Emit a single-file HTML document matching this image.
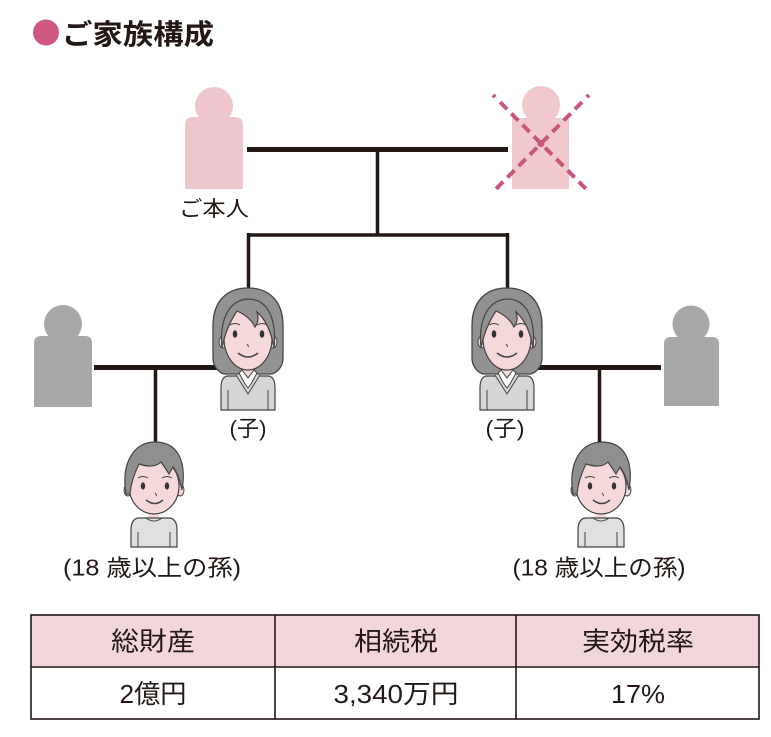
<!DOCTYPE html>
<html>
<head>
<meta charset="utf-8">
<style>
html,body{margin:0;padding:0;background:#fff;}
svg{display:block;}
text{font-family:"Liberation Sans","Noto Sans CJK JP",sans-serif;fill:#231815;}
</style>
</head>
<body>
<svg width="771" height="737" viewBox="0 0 771 737" xmlns="http://www.w3.org/2000/svg">
<defs>
  <g id="girl">
    <!-- hair back -->
    <path d="M0,0 C-22,0 -35,14 -35,38 L-35,70 C-35,78 -30,84 -24,86 L24,86 C30,84 35,78 35,70 L35,38 C35,14 22,0 0,0 Z" fill="#929292" stroke="#444" stroke-width="1.3"/>
    <!-- body -->
    <path d="M-21,88 C-25,89 -27,93 -27,100 L-27,122 L27,122 L27,100 C27,93 25,89 21,88 Z" fill="#d6d6d6" stroke="#444" stroke-width="1.2"/>
    <line x1="-20" y1="102" x2="-20" y2="122" stroke="#444" stroke-width="1"/>
    <line x1="20" y1="102" x2="20" y2="122" stroke="#444" stroke-width="1"/>
    <rect x="-6" y="76" width="12" height="12" fill="#f5d8da"/>
    <path d="M-12,87 L0,106 L12,87" fill="#d6d6d6" stroke="#444" stroke-width="1"/>
    <path d="M-9,85 L-3,96 L0,100 L3,96 L9,85 L6,82 L0,90 L-6,82 Z" fill="#fff" stroke="#444" stroke-width="1"/>
    <!-- ears -->
    <ellipse cx="-25" cy="54" rx="4" ry="6" fill="#f5d8da" stroke="#444" stroke-width="1"/>
    <ellipse cx="25" cy="54" rx="4" ry="6" fill="#f5d8da" stroke="#444" stroke-width="1"/>
    <!-- face -->
    <ellipse cx="0" cy="50" rx="24" ry="32" fill="#f5d8da" stroke="#444" stroke-width="1.2"/>
    <!-- bangs -->
    <path d="M-26,60 C-29,30 -18,12 0,11 C18,11 29,28 26,60 C23,42 17,31 9,24 C11,30 10,35 7,39 C3,31 -4,26 -11,23 C-17,32 -23,44 -26,60 Z" fill="#929292" stroke="#444" stroke-width="1.2"/>
    <!-- features -->
    <ellipse cx="-13" cy="46" rx="2.3" ry="3.8" fill="#333"/>
    <ellipse cx="14" cy="46" rx="2.3" ry="3.8" fill="#333"/>
    <path d="M-18,37 Q-13,34 -8,37 M9,37 Q14,34 19,37" fill="none" stroke="#444" stroke-width="1"/>
    <path d="M-1,56 Q1,58 0,59" fill="none" stroke="#444" stroke-width="1"/>
    <path d="M-10,65 Q0,73 10,65" fill="none" stroke="#444" stroke-width="1.5"/>
  </g>
  <g id="boy">
    <ellipse cx="-25" cy="48" rx="4" ry="6" fill="#f5d8da" stroke="#444" stroke-width="1"/>
    <ellipse cx="27" cy="48" rx="4" ry="6" fill="#f5d8da" stroke="#444" stroke-width="1"/>
    <rect x="-5" y="66" width="11" height="12" fill="#f5d8da"/>
    <path d="M-15,76 C-20,77 -22,82 -22,88 L-22,105 L24,105 L24,88 C24,82 22,77 17,76 Z" fill="#e0e0e0" stroke="#444" stroke-width="1.2"/>
    <path d="M-7,76 Q1,82 9,76" fill="none" stroke="#444" stroke-width="1"/>
    <line x1="-15" y1="90" x2="-15" y2="105" stroke="#444" stroke-width="1"/>
    <line x1="17" y1="90" x2="17" y2="105" stroke="#444" stroke-width="1"/>
    <ellipse cx="1" cy="44" rx="25" ry="28" fill="#f5d8da" stroke="#444" stroke-width="1.2"/>
    <path d="M-27,52 C-32,22 -20,0 2,0 C24,0 34,18 29,48 C27,38 24,30 20,25 L16,32 C13,27 10,23 8,20 C2,26 -8,24 -14,22 C-18,30 -22,40 -23,52 Z" fill="#8f8f8f" stroke="#444" stroke-width="1.2"/>
    <ellipse cx="-10" cy="44" rx="2.2" ry="3.6" fill="#333"/>
    <ellipse cx="14" cy="44" rx="2.2" ry="3.6" fill="#333"/>
    <path d="M-15,36 Q-10,33 -5,36 M9,36 Q14,33 19,36" fill="none" stroke="#444" stroke-width="1"/>
    <path d="M2,51 Q4,53 3,54" fill="none" stroke="#444" stroke-width="1"/>
    <path d="M-7,58 Q2,65 10,58" fill="none" stroke="#444" stroke-width="1.5"/>
  </g>
</defs>

<!-- Title -->
<circle cx="46" cy="32.5" r="13" fill="#d0587e"/>
<text x="62" y="44" font-size="28" font-weight="bold" textLength="152" lengthAdjust="spacingAndGlyphs">ご家族構成</text>

<!-- connector lines -->
<line x1="247" y1="149.5" x2="508" y2="149.5" stroke="#231815" stroke-width="5"/>
<line x1="377.5" y1="149" x2="377.5" y2="235" stroke="#231815" stroke-width="3.5"/>
<line x1="247" y1="235" x2="509" y2="235" stroke="#231815" stroke-width="3.5"/>
<line x1="248.5" y1="233" x2="248.5" y2="292" stroke="#231815" stroke-width="3.5"/>
<line x1="507.5" y1="233" x2="507.5" y2="292" stroke="#231815" stroke-width="3.5"/>

<line x1="94" y1="367.5" x2="225" y2="367.5" stroke="#231815" stroke-width="5"/>
<line x1="155.5" y1="367" x2="155.5" y2="446" stroke="#231815" stroke-width="3.5"/>
<line x1="530" y1="367.5" x2="661" y2="367.5" stroke="#231815" stroke-width="5"/>
<line x1="599.5" y1="367" x2="599.5" y2="446" stroke="#231815" stroke-width="3.5"/>

<!-- self -->
<circle cx="214" cy="106" r="19" fill="#efc6cd"/>
<path d="M185,125 Q185,117 193,117 L235,117 Q243,117 243,125 L243,189 L185,189 Z" fill="#efc6cd"/>
<text x="214" y="216" font-size="21" text-anchor="middle" textLength="70" lengthAdjust="spacingAndGlyphs">ご本人</text>

<!-- spouse (deceased) -->
<circle cx="541" cy="105" r="19" fill="#f0c8ce"/>
<rect x="512" y="118" width="57" height="71" fill="#f0c8ce"/>
<line x1="493" y1="95" x2="589" y2="192" stroke="#c9577a" stroke-width="4" stroke-dasharray="3 7 10 6 10 6 10 6 10 6 10 6 10 6 10 6 10 6 10 6" />
<line x1="589" y1="95" x2="493" y2="192" stroke="#c9577a" stroke-width="4" stroke-dasharray="3 7 10 6 10 6 10 6 10 6 10 6 10 6 10 6 10 6 10 6" />
<circle cx="541" cy="143.5" r="3.5" fill="#c9577a"/>

<!-- grey in-laws -->
<circle cx="63" cy="324" r="19" fill="#a7a8aa"/>
<path d="M34,343 Q34,336 41,336 L85,336 Q92,336 92,343 L92,407 L34,407 Z" fill="#a7a8aa"/>
<circle cx="691" cy="324" r="18.5" fill="#a7a8aa"/>
<path d="M664,344 Q664,337 671,337 L712,337 Q719,337 719,344 L719,406 L664,406 Z" fill="#a7a8aa"/>

<!-- children -->
<use href="#girl" transform="translate(248,288)"/>
<use href="#girl" transform="translate(507,288)"/>
<text x="248" y="436" font-size="22" text-anchor="middle" textLength="37" lengthAdjust="spacingAndGlyphs">(子)</text>
<text x="505" y="436" font-size="22" text-anchor="middle" textLength="39" lengthAdjust="spacingAndGlyphs">(子)</text>

<!-- grandchildren -->
<use href="#boy" transform="translate(153,442)"/>
<use href="#boy" transform="translate(600,442)"/>
<text x="152" y="575.5" font-size="23" text-anchor="middle" textLength="178" lengthAdjust="spacingAndGlyphs">(18 歳以上の孫)</text>
<text x="599" y="575.5" font-size="23" text-anchor="middle" textLength="173" lengthAdjust="spacingAndGlyphs">(18 歳以上の孫)</text>

<!-- table -->
<rect x="31" y="615" width="728" height="52" fill="#f2d6db"/>
<rect x="31" y="615" width="728" height="104" fill="none" stroke="#231815" stroke-width="1.6"/>
<line x1="31" y1="667" x2="759" y2="667" stroke="#231815" stroke-width="1.6"/>
<line x1="275" y1="615" x2="275" y2="719" stroke="#231815" stroke-width="1.6"/>
<line x1="516" y1="615" x2="516" y2="719" stroke="#231815" stroke-width="1.6"/>

<text x="153" y="650.5" font-size="26" text-anchor="middle" textLength="84" lengthAdjust="spacingAndGlyphs">総財産</text>
<text x="396" y="650.5" font-size="26" text-anchor="middle" textLength="84" lengthAdjust="spacingAndGlyphs">相続税</text>
<text x="638" y="650.5" font-size="26" text-anchor="middle" textLength="112" lengthAdjust="spacingAndGlyphs">実効税率</text>

<text x="153" y="703" font-size="26" text-anchor="middle" textLength="67" lengthAdjust="spacingAndGlyphs">2億円</text>
<text x="396" y="703" font-size="26" text-anchor="middle" textLength="125" lengthAdjust="spacingAndGlyphs">3,340万円</text>
<text x="638" y="703" font-size="26" text-anchor="middle" textLength="54" lengthAdjust="spacingAndGlyphs">17%</text>
</svg>
</body>
</html>
